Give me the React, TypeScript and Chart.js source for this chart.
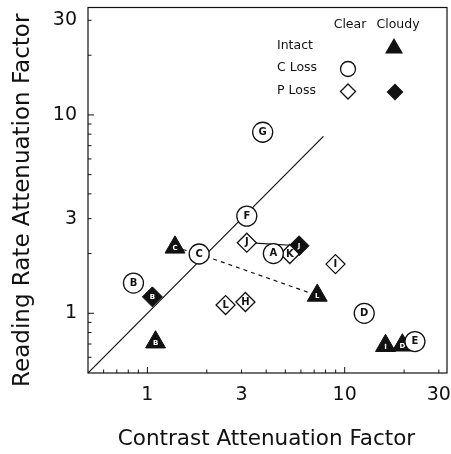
import React, { useEffect, useRef } from 'react';
import { Chart, registerables } from 'chart.js';

Chart.register(...registerables);

const FONT = '"DejaVu Sans", "Liberation Sans", sans-serif';
const INK = '#111111';

// Axis ranges (log-log)
const axisMin = 0.5;
const xAxisMax = 33;
const yAxisMax = 34.8;

// Tick labels
const xTickValues = [1, 3, 10, 30];
const yTickValues = [1, 3, 10, 30];
const minorTickValues = [0.6, 0.7, 0.8, 0.9, 1, 2, 3, 4, 5, 6, 7, 8, 9, 10, 20, 30];
const majorTickValues = [1, 10];

// Clear, C Loss (open circles)
const cLossLetters = ['A', 'B', 'C', 'D', 'E', 'F', 'G'];
const cLossX = [4.35, 0.85, 1.83, 12.56, 22.7, 3.19, 3.84];
const cLossY = [2.0, 1.42, 1.99, 1.0, 0.72, 3.09, 8.18];

// Clear, P Loss (open diamonds)
const pLossClearLetters = ['H', 'I', 'J', 'K', 'L'];
const pLossClearX = [3.14, 8.98, 3.19, 5.27, 2.49];
const pLossClearY = [1.14, 1.77, 2.27, 1.99, 1.1];

// Cloudy, P Loss (filled diamonds)
const pLossCloudyLetters = ['B', 'J'];
const pLossCloudyX = [1.06, 5.87];
const pLossCloudyY = [1.21, 2.19];

// Cloudy, Intact (filled triangles)
const intactCloudyLetters = ['C', 'B', 'L', 'I', 'D'];
const intactCloudyX = [1.38, 1.1, 7.26, 16.1, 19.6];
const intactCloudyY = [2.15, 0.715, 1.23, 0.686, 0.69];

// Reference (equality) line
const diagonalX = [0.5, 7.8];
const diagonalY = [0.5, 7.8];

// Dashed connection (cloudy intact - C - cloudy intact)
const dashedX = [1.38, 1.83, 7.26];
const dashedY = [2.15, 1.99, 1.23];

// Solid connection (J clear - J cloudy)
const solidX = [3.19, 5.87];
const solidY = [2.27, 2.19];

const pts = (xs: number[], ys: number[]) => xs.map((x, i) => ({ x, y: ys[i] }));

const letterPlugin = {
  id: 'letters',
  afterDatasetDraw(chart: any, args: any) {
    const ds: any = chart.data.datasets[args.index];
    if (!ds.letters) return;
    const ctx = chart.ctx;
    ctx.save();
    ctx.fillStyle = ds.letterColor || INK;
    ctx.font = `bold ${ds.letterSize || 10}px ${FONT}`;
    ctx.textAlign = 'center';
    ctx.textBaseline = 'middle';
    args.meta.data.forEach((el: any, i: number) => {
      ctx.fillText(ds.letters[i], el.x, el.y + (ds.letterDy || 0));
    });
    ctx.restore();
  },
};

const framePlugin = {
  id: 'frame',
  beforeDatasetsDraw(chart: any) {
    const { ctx, chartArea } = chart;
    const { left, right, top, bottom } = chartArea;
    const xs = chart.scales.x;
    const ys = chart.scales.y;
    ctx.save();
    ctx.strokeStyle = INK;
    ctx.lineWidth = 1.2;
    ctx.strokeRect(left, top, right - left, bottom - top);
    ctx.lineWidth = 1;
    ctx.beginPath();
    minorTickValues.forEach((v) => {
      const len = majorTickValues.includes(v) ? 6 : 3.5;
      const px = xs.getPixelForValue(v);
      ctx.moveTo(px, bottom);
      ctx.lineTo(px, bottom - len);
      const py = ys.getPixelForValue(v);
      ctx.moveTo(left, py);
      ctx.lineTo(left + len, py);
    });
    ctx.stroke();
    ctx.restore();
  },
  afterDraw(chart: any) {
    const { ctx, chartArea } = chart;
    const { left, right, top, bottom } = chartArea;
    ctx.save();
    ctx.fillStyle = INK;
    ctx.textBaseline = 'middle';
    // Axis titles
    ctx.font = `21.5px ${FONT}`;
    ctx.textAlign = 'center';
    ctx.fillText('Contrast Attenuation Factor', (left + right) / 2 - 1, bottom + 66);
    ctx.save();
    ctx.font = `23px ${FONT}`;
    ctx.translate(23, (top + bottom) / 2 + 10);
    ctx.rotate(-Math.PI / 2);
    ctx.fillText('Reading Rate Attenuation Factor', 0, 0);
    ctx.restore();

    // Legend
    const colClear = right - 99;
    const colCloudy = right - 53;
    const rowHead = top + 17.5;
    const rows = [top + 38.5, top + 60.5, top + 83.5];
    ctx.font = `12.5px ${FONT}`;
    ctx.textAlign = 'center';
    ctx.fillText('Clear', colClear + 2, rowHead);
    ctx.fillText('Cloudy', colCloudy + 4, rowHead);
    ctx.textAlign = 'left';
    const labelX = left + 189;
    ctx.fillText('Intact', labelX, rows[0]);
    ctx.fillText('C Loss', labelX, rows[1]);
    ctx.fillText('P Loss', labelX, rows[2]);

    ctx.strokeStyle = INK;
    ctx.lineWidth = 1.3;
    // Intact cloudy: filled triangle
    const tr = 10;
    ctx.beginPath();
    ctx.moveTo(colCloudy, rows[0] - tr + 2);
    ctx.lineTo(colCloudy + tr * 0.9, rows[0] + tr * 0.55 + 2);
    ctx.lineTo(colCloudy - tr * 0.9, rows[0] + tr * 0.55 + 2);
    ctx.closePath();
    ctx.fillStyle = INK;
    ctx.fill();
    // C Loss clear: open circle
    ctx.beginPath();
    ctx.arc(colClear, rows[1] + 1, 7.5, 0, Math.PI * 2);
    ctx.fillStyle = '#fff';
    ctx.fill();
    ctx.stroke();
    // P Loss: diamonds
    const d = 7.5;
    const diamond = (cx: number, cy: number) => {
      ctx.beginPath();
      ctx.moveTo(cx, cy - d);
      ctx.lineTo(cx + d, cy);
      ctx.lineTo(cx, cy + d);
      ctx.lineTo(cx - d, cy);
      ctx.closePath();
    };
    diamond(colClear, rows[2] + 0.5);
    ctx.fillStyle = '#fff';
    ctx.fill();
    ctx.stroke();
    diamond(colCloudy + 1, rows[2] + 1);
    ctx.fillStyle = INK;
    ctx.fill();
    ctx.stroke();
    ctx.restore();
  },
};

export default function App() {
  const ref = useRef<HTMLCanvasElement | null>(null);

  useEffect(() => {
    if (!ref.current) return;
    const chart = new Chart(ref.current, {
      type: 'scatter',
      data: {
        datasets: [
          {
            label: 'C Loss (Clear)',
            data: pts(cLossX, cLossY),
            pointStyle: 'circle',
            radius: 10,
            backgroundColor: '#ffffff',
            borderColor: INK,
            borderWidth: 1.3,
            order: 0,
            letters: cLossLetters,
            letterColor: INK,
          } as any,
          {
            label: 'P Loss (Clear)',
            data: pts(pLossClearX, pLossClearY),
            pointStyle: 'rectRot',
            radius: 9.5,
            backgroundColor: '#ffffff',
            borderColor: INK,
            borderWidth: 1.3,
            order: 0,
            letters: pLossClearLetters,
            letterColor: INK,
          } as any,
          {
            label: 'P Loss (Cloudy)',
            data: pts(pLossCloudyX, pLossCloudyY),
            pointStyle: 'rectRot',
            radius: 10,
            backgroundColor: INK,
            borderColor: INK,
            borderWidth: 1,
            order: 0,
            letters: pLossCloudyLetters,
            letterColor: '#ffffff',
            letterSize: 7,
          } as any,
          {
            label: 'Intact (Cloudy)',
            data: pts(intactCloudyX, intactCloudyY),
            pointStyle: 'triangle',
            radius: 11.5,
            backgroundColor: INK,
            borderColor: INK,
            borderWidth: 1,
            order: 0,
            letters: intactCloudyLetters,
            letterColor: '#ffffff',
            letterSize: 7,
            letterDy: 1,
          } as any,
          {
            label: 'equality',
            data: pts(diagonalX, diagonalY),
            showLine: true,
            pointRadius: 0,
            borderColor: INK,
            borderWidth: 1.2,
            order: 5,
          },
          {
            label: 'dashed',
            data: pts(dashedX, dashedY),
            showLine: true,
            pointRadius: 0,
            borderColor: INK,
            borderWidth: 1.2,
            borderDash: [4, 4],
            order: 5,
          },
          {
            label: 'solid',
            data: pts(solidX, solidY),
            showLine: true,
            pointRadius: 0,
            borderColor: INK,
            borderWidth: 1.2,
            order: 5,
          },
        ],
      },
      options: {
        responsive: false,
        animation: false,
        events: [],
        layout: { autoPadding: false, padding: { top: 7.5, right: 4, left: 0, bottom: 0 } },
        plugins: {
          legend: { display: false },
          tooltip: { enabled: false },
        },
        scales: {
          x: {
            type: 'logarithmic',
            position: 'bottom',
            min: axisMin,
            max: xAxisMax,
            grid: { display: false, drawTicks: false },
            border: { display: false },
            ticks: {
              autoSkip: false,
              maxRotation: 0,
              padding: 11,
              color: INK,
              font: { family: FONT, size: 19 },
              callback: (v: any) => String(v),
            },
            afterBuildTicks: (s: any) => {
              s.ticks = xTickValues.map((v) => ({ value: v }));
            },
            afterFit: (s: any) => {
              s.height = 81;
              s.paddingLeft = 0;
              s.paddingRight = 0;
            },
          },
          y: {
            type: 'logarithmic',
            position: 'left',
            min: axisMin,
            max: yAxisMax,
            grid: { display: false, drawTicks: false },
            border: { display: false },
            ticks: {
              autoSkip: false,
              padding: 11,
              color: INK,
              font: { family: FONT, size: 19 },
              callback: (v: any) => String(v),
            },
            afterBuildTicks: (s: any) => {
              s.ticks = yTickValues.map((v) => ({ value: v }));
            },
            afterFit: (s: any) => {
              s.width = 88;
              s.paddingTop = 0;
              s.paddingBottom = 0;
            },
          },
        },
      } as any,
      plugins: [framePlugin, letterPlugin],
    });
    return () => chart.destroy();
  }, []);

  return (
    <div style={{ position: 'absolute', left: 0, top: 0, width: 451, height: 454, background: '#fff' }}>
      <canvas ref={ref} width={451} height={454} style={{ display: 'block' }} />
    </div>
  );
}
